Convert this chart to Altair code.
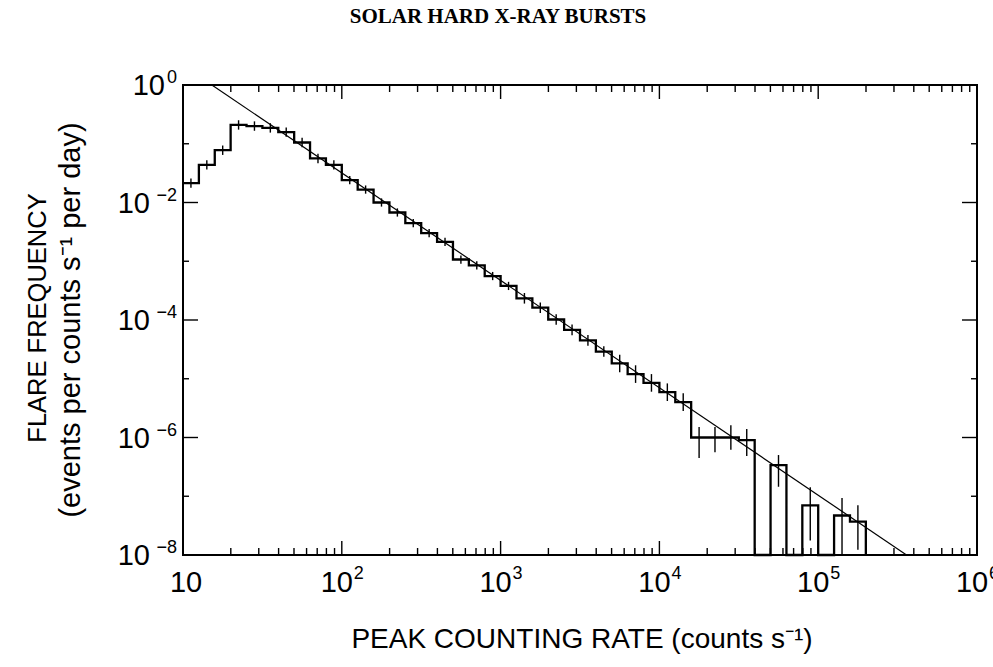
import altair as alt
import pandas as pd

# Peak counting-rate bin edges (counts/s): ten logarithmic bins per decade
edges = [10, 12.59, 15.85, 19.95, 25.12, 31.62, 39.81, 50.12, 63.10, 79.43,
         100, 125.9, 158.5, 199.5, 251.2, 316.2, 398.1, 501.2, 631.0, 794.3,
         1000, 1259, 1585, 1995, 2512, 3162, 3981, 5012, 6310, 7943,
         10000, 12589, 15849, 19953, 25119, 31623, 39811, 50119, 63096, 79433,
         100000, 125893, 158489, 199526]

# Flare frequency in each bin (events per counts/s per day); 0 = empty bin
freq = [0.0214, 0.0437, 0.0776, 0.209, 0.200, 0.186, 0.158, 0.105, 0.0562, 0.0437,
        0.024, 0.0166, 0.0100, 0.00676, 0.00447, 0.00302, 0.00214, 0.00107, 8.5e-4, 5.6e-4,
        3.8e-4, 2.34e-4, 1.62e-4, 1.02e-4, 6.8e-5, 4.5e-5, 2.9e-5, 1.82e-5, 1.2e-5, 8.5e-6,
        5.9e-6, 4.0e-6, 1.0e-6, 1.0e-6, 1.0e-6, 9.0e-7, 0, 3.4e-7, 0, 7.0e-8,
        0, 4.7e-8, 3.7e-8]

# Statistical error bars, upper / lower extent in decades
err_up = [0.08] * 10 + [0.07] * 11 + [0.09] * 6 + [0.15] * 5 + \
         [0.18, 0.18, 0.21, 0.19, None, 0.17, None, 0.31, None, 0.30, 0.28]
err_dn = [0.08] * 10 + [0.07] * 11 + [0.09] * 6 + [0.15] * 5 + \
         [0.35, 0.25, 0.21, 0.27, None, 0.37, None, 0.60, None, 1.00, 0.48]

# Power-law fit across the full frame
fit_rate = [15.2, 3.6e5]
fit_freq = [1.0, 1e-8]

FLOOR = 1e-8  # bottom of the frequency axis; empty bins sit here

W, H = 794, 470
FONT = "Liberation Sans"

x_scale = alt.Scale(type="log", domain=[10, 1e6], nice=False)
y_scale = alt.Scale(type="log", domain=[FLOOR, 1], nice=False)

# ---- histogram outline (step-after), closed at the last bin edge ----
step_df = pd.DataFrame({
    "rate": edges,
    "freq": [f if f > 0 else FLOOR for f in freq] + [FLOOR],
})
hist = alt.Chart(step_df).mark_line(
    interpolate="step-after", color="black", strokeWidth=2.3
).encode(
    x=alt.X("rate:Q", scale=x_scale, axis=None),
    y=alt.Y("freq:Q", scale=y_scale, axis=None),
)

# ---- error bars at the logarithmic bin centres ----
rows = []
for i, f in enumerate(freq):
    if f <= 0 or err_up[i] is None:
        continue
    centre = (edges[i] * edges[i + 1]) ** 0.5
    rows.append({
        "rate": centre,
        "lo": max(f * 10 ** (-err_dn[i]), FLOOR),
        "hi": f * 10 ** err_up[i],
    })
err_df = pd.DataFrame(rows)
errbars = alt.Chart(err_df).mark_rule(color="black", strokeWidth=1.4).encode(
    x=alt.X("rate:Q", scale=x_scale, axis=None),
    y=alt.Y("lo:Q", scale=y_scale, axis=None),
    y2="hi:Q",
)

# ---- fitted power law ----
fit_df = pd.DataFrame({"rate": fit_rate, "freq": fit_freq})
fit = alt.Chart(fit_df).mark_line(color="black", strokeWidth=1.2).encode(
    x=alt.X("rate:Q", scale=x_scale, axis=None),
    y=alt.Y("freq:Q", scale=y_scale, axis=None),
)

# ---- inward ticks on all four sides ----
x_major = [100, 1e3, 1e4, 1e5]
x_minor = [m * 10 ** k for k in range(1, 6) for m in range(2, 10)]
y_major = [1e-2, 1e-4, 1e-6]
y_minor = [1e-1, 1e-3, 1e-5, 1e-7]


def xticks(vals, length):
    d = pd.DataFrame({"v": vals})
    base = alt.Chart(d).mark_rule(color="black", strokeWidth=1.4)
    enc = dict(x=alt.X("v:Q", scale=x_scale, axis=None))
    bottom = base.encode(y=alt.value(H), y2=alt.value(H - length), **enc)
    top = base.encode(y=alt.value(0), y2=alt.value(length), **enc)
    return bottom + top


def yticks(vals, length):
    d = pd.DataFrame({"v": vals})
    base = alt.Chart(d).mark_rule(color="black", strokeWidth=1.4)
    enc = dict(y=alt.Y("v:Q", scale=y_scale, axis=None))
    left = base.encode(x=alt.value(0), x2=alt.value(length), **enc)
    right = base.encode(x=alt.value(W), x2=alt.value(W - length), **enc)
    return left + right


ticks = xticks(x_major, 14) + xticks(x_minor, 7) + yticks(y_major, 15) + yticks(y_minor, 6)

# ---- tick labels as 10 with a raised exponent ----
xlab_df = pd.DataFrame({
    "v": [10, 100, 1e3, 1e4, 1e5, 1e6],
    "exp": ["", "2", "3", "4", "5", "6"],
})
xlab_plain = alt.Chart(xlab_df).transform_filter("datum.exp == ''").mark_text(
    font=FONT, fontSize=29, align="center", baseline="alphabetic", dx=3, color="black"
).encode(
    x=alt.X("v:Q", scale=x_scale, axis=None), y=alt.value(H + 37), text=alt.value("10")
)
xlab_base = alt.Chart(xlab_df).transform_filter("datum.exp != ''").mark_text(
    font=FONT, fontSize=29, align="center", baseline="alphabetic", dx=-5, color="black"
).encode(
    x=alt.X("v:Q", scale=x_scale, axis=None), y=alt.value(H + 37), text=alt.value("10")
)
xlab_exp = alt.Chart(xlab_df).mark_text(
    font=FONT, fontSize=18, align="left", baseline="alphabetic", dx=12, color="black"
).encode(
    x=alt.X("v:Q", scale=x_scale, axis=None), y=alt.value(H + 24), text="exp:N"
)

ylab_df = pd.DataFrame({
    "v": [1, 1e-2, 1e-4, 1e-6, 1e-8],
    "exp": ["0", "\u22122", "\u22124", "\u22126", "\u22128"],
})
ylab_exp = alt.Chart(ylab_df).mark_text(
    font=FONT, fontSize=18, align="right", baseline="alphabetic", dy=-2, color="black"
).encode(
    y=alt.Y("v:Q", scale=y_scale, axis=None), x=alt.value(-6), text="exp:N"
)
ylab_base_zero = alt.Chart(ylab_df).transform_filter("datum.exp == '0'").mark_text(
    font=FONT, fontSize=29, align="right", baseline="alphabetic", dy=10, color="black"
).encode(
    y=alt.Y("v:Q", scale=y_scale, axis=None), x=alt.value(-18), text=alt.value("10")
)
ylab_base_neg = alt.Chart(ylab_df).transform_filter("datum.exp != '0'").mark_text(
    font=FONT, fontSize=29, align="right", baseline="alphabetic", dy=10, color="black"
).encode(
    y=alt.Y("v:Q", scale=y_scale, axis=None), x=alt.value(-33), text=alt.value("10")
)

# ---- titles ----
def label(text, x, y, size, angle=0, font=FONT, weight="normal"):
    params = dict(font=font, fontSize=size, align="center", baseline="middle",
                  color="black", fontWeight=weight)
    if angle:
        params["angle"] = angle
    return alt.Chart(pd.DataFrame({"t": [text]})).mark_text(**params).encode(
        text="t:N", x=alt.value(x), y=alt.value(y)
    )


y_title1 = label("FLARE FREQUENCY", -145, 233, 25.5, angle=270)
y_title2 = label("(events per counts s\u207b\u00b9 per day)", -112, 235, 29, angle=270)
x_title = label("PEAK COUNTING RATE (counts s\u207b\u00b9)", 399, 555, 28)
head = label("SOLAR HARD X-RAY BURSTS", 315, -68, 21, font="Liberation Serif", weight="bold")

chart = alt.layer(
    ticks, fit, hist, errbars,
    xlab_plain, xlab_base, xlab_exp, ylab_exp, ylab_base_zero, ylab_base_neg,
    y_title1, y_title2, x_title, head,
).properties(
    width=W, height=H,
    autosize=alt.AutoSizeParams(type="none"),
    padding={"left": 183, "top": 85, "right": 16, "bottom": 112},
    background="white",
).configure_view(stroke="black", strokeWidth=2)

chart.save("out.html", embed_options={"renderer": "svg", "actions": False})
